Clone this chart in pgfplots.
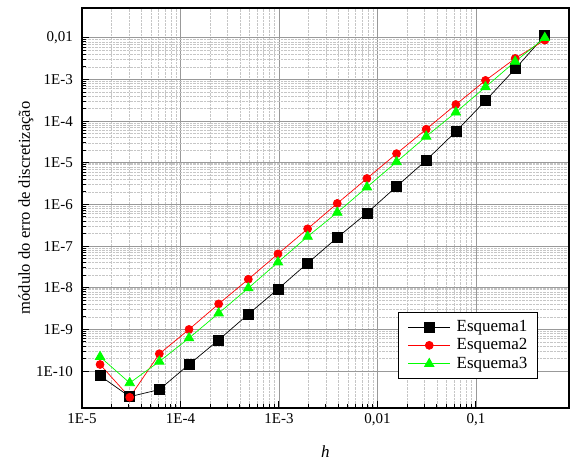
\documentclass[border=0pt]{standalone}
\usepackage{fontspec}
\setmainfont{Liberation Serif}
\usepackage{pgfplots}
\pgfplotsset{compat=1.18}
\definecolor{pgreen}{RGB}{0,255,0}
\definecolor{pred}{RGB}{255,0,0}
\begin{document}
\fontsize{15pt}{17pt}\selectfont
\begin{tikzpicture}
\useasboundingbox (-82pt,-54pt) rectangle (489pt,408pt);
\begin{axis}[
  at={(0,0)}, anchor=south west,
  scale only axis, width=487pt, height=400pt,
  xmode=log, ymode=log,
  xmin=1e-5, xmax=0.88, ymin=1.3e-11, ymax=0.052,
  axis line style={black, line width=1.3pt},
  xtick={1e-5,1e-4,1e-3,1e-2,1e-1},
  xticklabels={1E-5,1E-4,1E-3,{0,01},{0,1}},
  ytick={1e-10,1e-9,1e-8,1e-7,1e-6,1e-5,1e-4,1e-3,1e-2},
  yticklabels={1E-10,1E-9,1E-8,1E-7,1E-6,1E-5,1E-4,1E-3,{0,01}},
  xtick pos=lower, ytick pos=left,
  tick align=inside,
  major tick length=7pt, minor tick length=4pt,
  every tick/.style={black, line width=1pt},
  grid=both,
  major grid style={gray!80, line width=0.8pt},
  minor grid style={gray!45, densely dotted, line width=0.5pt},
  ticklabel style={font=\fontsize{15pt}{17pt}\selectfont},
  yticklabel style={anchor=east, inner sep=0pt, xshift=-9pt},
  xticklabel style={anchor=north, inner sep=0pt, yshift=-5pt},
  xlabel={\textit{h}},
  ylabel={módulo do erro de discretização},
  xlabel style={font=\fontsize{17pt}{19pt}\selectfont, at={(axis description cs:0.5,-0.11)}, anchor=center},
  ylabel style={font=\fontsize{16.6pt}{19pt}\selectfont, at={(axis description cs:-0.115,0.5)}, anchor=center},
  legend style={at={(0.936,0.0725)}, anchor=south east, draw=black, line width=0.8pt,
    font=\fontsize{17pt}{19pt}\selectfont, inner xsep=10pt, inner ysep=8pt, row sep=5pt, column sep=6pt,
    nodes={inner sep=0pt}},
  legend cell align=left,
  legend image code/.code={\draw[mark repeat=2,mark phase=2] plot coordinates {(0pt,0pt) (21pt,0pt) (42pt,0pt)};},
]
\addplot[black, line width=0.7pt, mark=square*, mark size=5pt, mark options={solid, fill=black}] coordinates {
(0.5,1.13e-2) (0.25,1.8e-3) (0.125,3.1e-4) (0.0625,5.6e-5) (0.03125,1.15e-5)
(0.015625,2.7e-6) (0.0078125,6.2e-7) (0.00390625,1.6e-7) (0.001953125,3.9e-8)
(9.765625e-4,9.3e-9) (4.8828125e-4,2.32e-9) (2.44140625e-4,5.6e-10)
(1.220703125e-4,1.44e-10) (6.103515625e-5,3.6e-11) (3.0517578125e-5,2.43e-11)
(1.52587890625e-5,7.7e-11)};
\addlegendentry{Esquema1}
\addplot[pred, line width=0.7pt, mark=*, mark size=4pt, mark options={solid, fill=pred, draw=pred}] coordinates {
(0.5,8.8e-3) (0.25,3.2e-3) (0.125,9.5e-4) (0.0625,2.5e-4) (0.03125,6.4e-5)
(0.015625,1.66e-5) (0.0078125,4.2e-6) (0.00390625,1.06e-6) (0.001953125,2.6e-7)
(9.765625e-4,6.5e-8) (4.8828125e-4,1.6e-8) (2.44140625e-4,4.1e-9)
(1.220703125e-4,1.0e-9) (6.103515625e-5,2.6e-10) (3.0517578125e-5,2.35e-11)
(1.52587890625e-5,1.44e-10)};
\addlegendentry{Esquema2}
\addplot[pgreen, line width=0.7pt, mark=triangle*, mark size=5.5pt, mark options={solid, fill=pgreen, draw=pgreen}] coordinates {
(0.5,1.0e-2) (0.25,2.7e-3) (0.125,6.6e-4) (0.0625,1.63e-4) (0.03125,4.3e-5)
(0.015625,1.05e-5) (0.0078125,2.6e-6) (0.00390625,6.4e-7) (0.001953125,1.7e-7)
(9.765625e-4,4.1e-8) (4.8828125e-4,9.8e-9) (2.44140625e-4,2.45e-9)
(1.220703125e-4,6.2e-10) (6.103515625e-5,1.7e-10) (3.0517578125e-5,5.2e-11)
(1.52587890625e-5,2.2e-10)};
\addlegendentry{Esquema3}
\end{axis}
\end{tikzpicture}
\end{document}
